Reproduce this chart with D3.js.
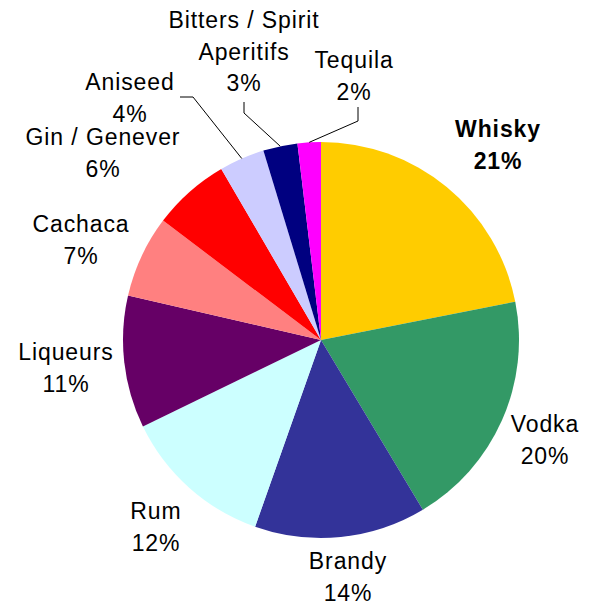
<!DOCTYPE html>
<html>
<head>
<meta charset="utf-8">
<script src="https://cdn.jsdelivr.net/npm/d3@7"></script>
<style>
  body { margin: 0; background: #fff; }
  text { font-family: "Liberation Sans", Arial, sans-serif; font-size: 23px; letter-spacing: 0.9px; fill: #000; }
</style>
</head>
<body>
<svg id="chart"></svg>
<script>
// spirits market share, clockwise from 12 o'clock
const categories = ['Whisky', 'Vodka', 'Brandy', 'Rum', 'Liqueurs', 'Cachaca',
    'Gin / Genever', 'Aniseed', 'Bitters / Spirit Aperitifs', 'Tequila'];
const values = [21.9, 19.5, 14.0, 12.4, 10.8, 6.7, 6.3, 3.7, 2.8, 1.9];
const pctLabels = ['21%', '20%', '14%', '12%', '11%', '7%', '6%', '4%', '3%', '2%'];
const colors = ['#FFCC00', '#339966', '#333399', '#CCFFFF', '#660066', '#FF8080',
    '#FF0000', '#CCCCFF', '#000080', '#FF00FF'];

// label layout: centre x, first baseline y, text lines
const labelLayout = [
    { x: 498, y: 137, lines: ['Whisky'], bold: true },
    { x: 545, y: 432, lines: ['Vodka'] },
    { x: 348, y: 569, lines: ['Brandy'] },
    { x: 156, y: 519, lines: ['Rum'] },
    { x: 66, y: 360, lines: ['Liqueurs'] },
    { x: 81, y: 232, lines: ['Cachaca'] },
    { x: 103, y: 145, lines: ['Gin / Genever'] },
    { x: 130, y: 90, lines: ['Aniseed'] },
    { x: 244, y: 28, lines: ['Bitters / Spirit', 'Aperitifs'] },
    { x: 354, y: 68, lines: ['Tequila'] }
];
// leader lines: start point and elbow, end is on the slice edge
const leaders = {
    7: [[180, 97], [193, 97]],
    8: [[244, 102], [244, 113]],
    9: [[358, 107], [358, 121]]
};

const width = 595, height = 604;
const cx = 321, cy = 340, radius = 198;
const lineGap = 31.7;

let svg = d3.select('#chart')
    .attr('width', width)
    .attr('height', height);

let pie = d3.pie().sort(null).value(d => d)(values);
let arc = d3.arc().innerRadius(0).outerRadius(radius);
let edge = d3.arc().innerRadius(radius).outerRadius(radius);

let plot = svg.append('g')
    .attr('transform', 'translate(' + cx + ',' + cy + ')');

plot.selectAll('path.slice')
    .data(pie)
    .join('path')
    .attr('class', 'slice')
    .attr('fill', (d, i) => colors[i])
    .attr('d', arc);

// leader lines for the small slices
Object.keys(leaders).forEach(function (k) {
    let i = +k;
    let p = edge.centroid(pie[i]);
    let pts = leaders[k].concat([[p[0] + cx, p[1] + cy]]);
    svg.append('path')
        .attr('fill', 'none')
        .attr('stroke', '#000')
        .attr('stroke-width', 1)
        .attr('d', d3.line()(pts));
});

// labels
labelLayout.forEach(function (l, i) {
    let lines = l.lines.concat([pctLabels[i]]);
    let t = svg.append('text')
        .attr('text-anchor', 'middle')
        .style('font-weight', l.bold ? 'bold' : 'normal');
    lines.forEach(function (s, j) {
        t.append('tspan')
            .attr('x', l.x)
            .attr('y', l.y + j * lineGap)
            .text(s);
    });
});
</script>
</body>
</html>
